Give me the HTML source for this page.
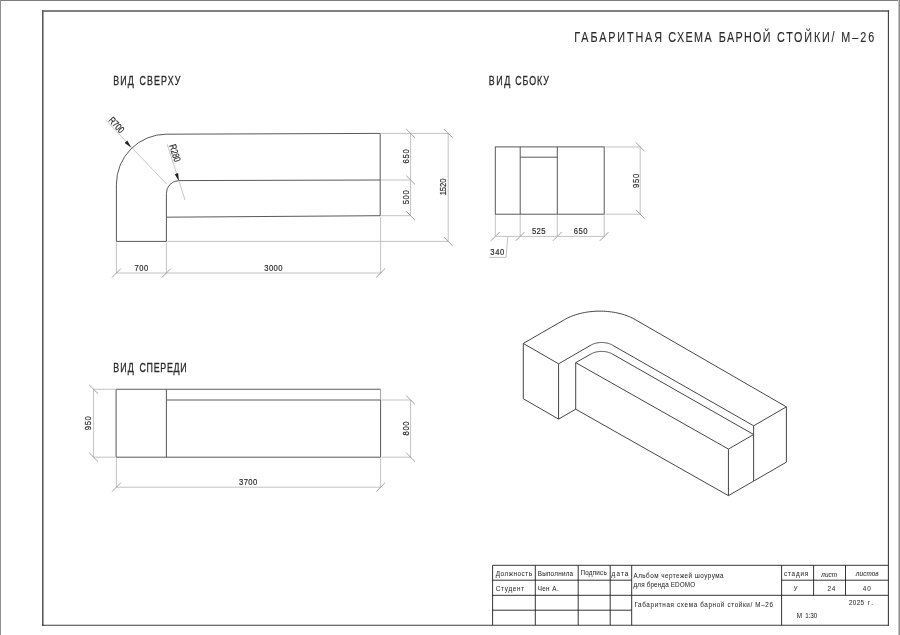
<!DOCTYPE html>
<html lang="ru">
<head>
<meta charset="utf-8">
<title>Габаритная схема барной стойки / М-26</title>
<style>
html,body{margin:0;padding:0;background:#fff;}
body{width:900px;height:635px;overflow:hidden;}
svg{display:block;font-family:"Liberation Sans",sans-serif;will-change:transform;opacity:0.999;}
text{white-space:pre;}
</style>
</head>
<body>
<svg width="900" height="635" viewBox="0 0 900 635">
<rect x="0" y="0" width="900" height="635" fill="#ffffff"/>
<rect x="0" y="0" width="900" height="1" fill="#7e7e7e"/>
<rect x="0" y="0" width="1" height="635" fill="#8e8e8e"/>
<rect x="898" y="0" width="1" height="635" fill="#c4c4c4"/>
<rect x="899" y="0" width="1" height="635" fill="#8c8c8c"/>
<g stroke-linecap="square">
<line x1="42.80" y1="11.10" x2="888.40" y2="11.10" stroke="#565656" stroke-width="1.5"/>
<line x1="42.80" y1="11.10" x2="42.80" y2="625.30" stroke="#505050" stroke-width="1.5"/>
<line x1="888.40" y1="11.10" x2="888.40" y2="625.30" stroke="#3c3c3c" stroke-width="1.1"/>
<line x1="42.80" y1="625.30" x2="888.40" y2="625.30" stroke="#3c3c3c" stroke-width="1.1"/>
</g>
<text transform="translate(574.35 42.00) translate(0.00 0) scale(0.7200 1)" font-size="15.0" fill="#2a2a2a" stroke="#2a2a2a" stroke-width="0.12" style="letter-spacing:2.615px;">ГАБАРИТНАЯ</text>
<text transform="translate(668.35 42.00) translate(0.00 0) scale(0.7200 1)" font-size="15.0" fill="#2a2a2a" stroke="#2a2a2a" stroke-width="0.12" style="letter-spacing:1.908px;">СХЕМА</text>
<text transform="translate(718.75 42.00) translate(0.00 0) scale(0.7200 1)" font-size="15.0" fill="#2a2a2a" stroke="#2a2a2a" stroke-width="0.12" style="letter-spacing:1.854px;">БАРНОЙ</text>
<text transform="translate(776.95 42.00) translate(0.00 0) scale(0.7200 1)" font-size="15.0" fill="#2a2a2a" stroke="#2a2a2a" stroke-width="0.12" style="letter-spacing:2.529px;">СТОЙКИ/</text>
<text transform="translate(841.35 42.00) translate(0.00 0) scale(0.7200 1)" font-size="15.0" fill="#2a2a2a" stroke="#2a2a2a" stroke-width="0.12" style="letter-spacing:2.722px;">М–26</text>
<text transform="translate(113.37 84.60) translate(0.00 0) scale(0.7400 1)" font-size="12.0" fill="#2a2a2a" stroke="#2a2a2a" stroke-width="0.3" style="letter-spacing:1.450px;">ВИД</text>
<text transform="translate(139.47 84.60) translate(0.00 0) scale(0.7400 1)" font-size="12.0" fill="#2a2a2a" stroke="#2a2a2a" stroke-width="0.3" style="letter-spacing:1.492px;">СВЕРХУ</text>
<text transform="translate(488.87 84.80) translate(0.00 0) scale(0.7400 1)" font-size="12.0" fill="#2a2a2a" stroke="#2a2a2a" stroke-width="0.3" style="letter-spacing:2.126px;">ВИД</text>
<text transform="translate(515.27 84.80) translate(0.00 0) scale(0.7400 1)" font-size="12.0" fill="#2a2a2a" stroke="#2a2a2a" stroke-width="0.3" style="letter-spacing:1.218px;">СБОКУ</text>
<text transform="translate(113.37 371.70) translate(0.00 0) scale(0.7400 1)" font-size="12.0" fill="#2a2a2a" stroke="#2a2a2a" stroke-width="0.3" style="letter-spacing:1.450px;">ВИД</text>
<text transform="translate(139.47 371.70) translate(0.00 0) scale(0.7400 1)" font-size="12.0" fill="#2a2a2a" stroke="#2a2a2a" stroke-width="0.3" style="letter-spacing:0.947px;">СПЕРЕДИ</text>
<path d="M116.40,241.40 L116.40,184.20 A50.0,50.0 0 0 1 166.40,134.20 L380.20,133.40 L380.20,215.70 L166.40,217.20" stroke="#505050" stroke-width="0.95" fill="none" stroke-linejoin="round"/>
<path d="M116.40,241.40 L166.40,241.40 L166.40,193.20 A12.6,12.6 0 0 1 179.00,180.60 L380.20,180.00" stroke="#505050" stroke-width="0.95" fill="none" stroke-linejoin="round"/>
<line x1="105.60" y1="119.90" x2="166.50" y2="184.00" stroke="#b8b8b8" stroke-width="0.8"/>
<line x1="167.20" y1="144.20" x2="185.00" y2="200.00" stroke="#b8b8b8" stroke-width="0.8"/>
<polygon points="131.20,147.50 124.63,142.93 127.29,140.51" fill="#222"/>
<polygon points="178.85,181.00 174.73,174.14 178.15,173.03" fill="#222"/>
<text transform="translate(107.94 120.80) rotate(46.5) translate(0.00 0) scale(0.7800 1)" font-size="9.8" fill="#2a2a2a" stroke="#2a2a2a" stroke-width="0.2" style="letter-spacing:-0.152px;">R700</text>
<text transform="translate(169.14 145.60) rotate(72.3) translate(0.00 0) scale(0.7800 1)" font-size="9.8" fill="#2a2a2a" stroke="#2a2a2a" stroke-width="0.2" style="letter-spacing:-0.152px;">R280</text>
<line x1="116.40" y1="242.40" x2="116.40" y2="273.00" stroke="#b4b4b4" stroke-width="0.8"/>
<line x1="166.40" y1="242.40" x2="166.40" y2="273.00" stroke="#b4b4b4" stroke-width="0.8"/>
<line x1="380.60" y1="216.70" x2="380.60" y2="273.00" stroke="#b4b4b4" stroke-width="0.8"/>
<line x1="116.40" y1="273.00" x2="380.60" y2="273.00" stroke="#b4b4b4" stroke-width="0.8"/>
<line x1="112.00" y1="277.40" x2="120.80" y2="268.60" stroke="#8a8a8a" stroke-width="0.8"/>
<line x1="162.00" y1="277.40" x2="170.80" y2="268.60" stroke="#8a8a8a" stroke-width="0.8"/>
<line x1="376.20" y1="277.40" x2="385.00" y2="268.60" stroke="#8a8a8a" stroke-width="0.8"/>
<text transform="translate(141.40 270.80) translate(-6.86 0) scale(0.7800 1)" font-size="9.8" fill="#2a2a2a" stroke="#2a2a2a" stroke-width="0.2" style="letter-spacing:0.618px;">700</text>
<text transform="translate(273.40 270.90) translate(-9.21 0) scale(0.7800 1)" font-size="9.8" fill="#2a2a2a" stroke="#2a2a2a" stroke-width="0.2" style="letter-spacing:0.604px;">3000</text>
<line x1="381.20" y1="133.40" x2="448.70" y2="133.40" stroke="#b4b4b4" stroke-width="0.8"/>
<line x1="381.20" y1="180.00" x2="410.60" y2="180.00" stroke="#b4b4b4" stroke-width="0.8"/>
<line x1="381.20" y1="215.70" x2="410.60" y2="215.70" stroke="#b4b4b4" stroke-width="0.8"/>
<line x1="167.40" y1="241.40" x2="448.20" y2="241.40" stroke="#b4b4b4" stroke-width="0.8"/>
<line x1="410.60" y1="133.40" x2="410.60" y2="215.70" stroke="#b4b4b4" stroke-width="0.8"/>
<line x1="448.20" y1="133.40" x2="448.20" y2="241.40" stroke="#b4b4b4" stroke-width="0.8"/>
<line x1="406.20" y1="129.00" x2="415.00" y2="137.80" stroke="#8a8a8a" stroke-width="0.8"/>
<line x1="406.20" y1="175.60" x2="415.00" y2="184.40" stroke="#8a8a8a" stroke-width="0.8"/>
<line x1="406.20" y1="211.30" x2="415.00" y2="220.10" stroke="#8a8a8a" stroke-width="0.8"/>
<line x1="443.80" y1="129.00" x2="452.60" y2="137.80" stroke="#8a8a8a" stroke-width="0.8"/>
<line x1="443.80" y1="237.00" x2="452.60" y2="245.80" stroke="#8a8a8a" stroke-width="0.8"/>
<text transform="translate(408.90 156.40) rotate(-90) translate(-7.11 0) scale(0.7800 1)" font-size="9.8" fill="#2a2a2a" stroke="#2a2a2a" stroke-width="0.2" style="letter-spacing:0.938px;">650</text>
<text transform="translate(408.90 197.30) rotate(-90) translate(-7.01 0) scale(0.7800 1)" font-size="9.8" fill="#2a2a2a" stroke="#2a2a2a" stroke-width="0.2" style="letter-spacing:0.810px;">500</text>
<text transform="translate(445.80 186.90) rotate(-90) translate(-8.46 0) scale(0.7800 1)" font-size="9.8" fill="#2a2a2a" stroke="#2a2a2a" stroke-width="0.2" style="letter-spacing:-0.038px;">1520</text>
<rect x="495.3" y="146.9" width="108.90" height="67.30" fill="none" stroke="#505050" stroke-width="0.95"/>
<line x1="520.20" y1="146.90" x2="520.20" y2="214.20" stroke="#505050" stroke-width="0.95"/>
<line x1="557.30" y1="146.90" x2="557.30" y2="214.20" stroke="#505050" stroke-width="0.95"/>
<line x1="520.20" y1="157.20" x2="557.30" y2="157.20" stroke="#505050" stroke-width="0.95"/>
<line x1="495.30" y1="215.20" x2="495.30" y2="236.40" stroke="#b4b4b4" stroke-width="0.8"/>
<line x1="490.90" y1="240.80" x2="499.70" y2="232.00" stroke="#8a8a8a" stroke-width="0.8"/>
<line x1="520.20" y1="215.20" x2="520.20" y2="236.40" stroke="#b4b4b4" stroke-width="0.8"/>
<line x1="515.80" y1="240.80" x2="524.60" y2="232.00" stroke="#8a8a8a" stroke-width="0.8"/>
<line x1="557.30" y1="215.20" x2="557.30" y2="236.40" stroke="#b4b4b4" stroke-width="0.8"/>
<line x1="552.90" y1="240.80" x2="561.70" y2="232.00" stroke="#8a8a8a" stroke-width="0.8"/>
<line x1="604.20" y1="215.20" x2="604.20" y2="236.40" stroke="#b4b4b4" stroke-width="0.8"/>
<line x1="599.80" y1="240.80" x2="608.60" y2="232.00" stroke="#8a8a8a" stroke-width="0.8"/>
<line x1="495.30" y1="236.40" x2="604.20" y2="236.40" stroke="#b4b4b4" stroke-width="0.8"/>
<text transform="translate(538.70 234.10) translate(-6.76 0) scale(0.7800 1)" font-size="9.8" fill="#2a2a2a" stroke="#2a2a2a" stroke-width="0.2" style="letter-spacing:0.489px;">525</text>
<text transform="translate(580.60 233.90) translate(-6.91 0) scale(0.7800 1)" font-size="9.8" fill="#2a2a2a" stroke="#2a2a2a" stroke-width="0.2" style="letter-spacing:0.682px;">650</text>
<path d="M507.8,236.6 L506.1,257.4 L488.9,257.4" stroke="#b4b4b4" stroke-width="0.8" fill="none" stroke-linejoin="round"/>
<text transform="translate(490.34 255.30) translate(0.00 0) scale(0.7800 1)" font-size="9.8" fill="#2a2a2a" stroke="#2a2a2a" stroke-width="0.2" style="letter-spacing:0.810px;">340</text>
<line x1="605.20" y1="146.90" x2="640.20" y2="146.90" stroke="#b4b4b4" stroke-width="0.8"/>
<line x1="605.20" y1="214.20" x2="640.20" y2="214.20" stroke="#b4b4b4" stroke-width="0.8"/>
<line x1="640.20" y1="146.90" x2="640.20" y2="214.20" stroke="#b4b4b4" stroke-width="0.8"/>
<line x1="635.80" y1="142.50" x2="644.60" y2="151.30" stroke="#8a8a8a" stroke-width="0.8"/>
<line x1="635.80" y1="209.80" x2="644.60" y2="218.60" stroke="#8a8a8a" stroke-width="0.8"/>
<text transform="translate(638.70 180.80) rotate(-90) translate(-7.11 0) scale(0.7800 1)" font-size="9.8" fill="#2a2a2a" stroke="#2a2a2a" stroke-width="0.2" style="letter-spacing:0.938px;">950</text>
<path d="M116.1,389.25 L380.6,389.25 M116.1,389.25 L116.1,457.2 L380.6,457.2 L380.6,400.0 M166.4,389.25 L166.4,457.2 M166.4,400.0 L380.6,400.0" stroke="#505050" stroke-width="0.95" fill="none" stroke-linejoin="round"/>
<line x1="380.60" y1="389.25" x2="380.60" y2="400.00" stroke="#8a8a8a" stroke-width="0.8"/>
<line x1="93.60" y1="389.25" x2="115.10" y2="389.25" stroke="#b4b4b4" stroke-width="0.8"/>
<line x1="93.60" y1="457.20" x2="115.10" y2="457.20" stroke="#b4b4b4" stroke-width="0.8"/>
<line x1="93.60" y1="389.25" x2="93.60" y2="457.20" stroke="#b4b4b4" stroke-width="0.8"/>
<line x1="89.20" y1="384.85" x2="98.00" y2="393.65" stroke="#8a8a8a" stroke-width="0.8"/>
<line x1="89.20" y1="452.80" x2="98.00" y2="461.60" stroke="#8a8a8a" stroke-width="0.8"/>
<text transform="translate(91.40 423.20) rotate(-90) translate(-6.96 0) scale(0.7800 1)" font-size="9.8" fill="#2a2a2a" stroke="#2a2a2a" stroke-width="0.2" style="letter-spacing:0.746px;">950</text>
<line x1="381.60" y1="400.00" x2="410.60" y2="400.00" stroke="#b4b4b4" stroke-width="0.8"/>
<line x1="381.60" y1="457.20" x2="410.60" y2="457.20" stroke="#b4b4b4" stroke-width="0.8"/>
<line x1="410.60" y1="400.00" x2="410.60" y2="457.20" stroke="#b4b4b4" stroke-width="0.8"/>
<line x1="406.20" y1="395.60" x2="415.00" y2="404.40" stroke="#8a8a8a" stroke-width="0.8"/>
<line x1="406.20" y1="452.80" x2="415.00" y2="461.60" stroke="#8a8a8a" stroke-width="0.8"/>
<text transform="translate(409.10 428.40) rotate(-90) translate(-7.01 0) scale(0.7800 1)" font-size="9.8" fill="#2a2a2a" stroke="#2a2a2a" stroke-width="0.2" style="letter-spacing:0.810px;">800</text>
<line x1="116.40" y1="458.20" x2="116.40" y2="487.20" stroke="#b4b4b4" stroke-width="0.8"/>
<line x1="380.60" y1="458.20" x2="380.60" y2="487.20" stroke="#b4b4b4" stroke-width="0.8"/>
<line x1="116.10" y1="487.20" x2="380.60" y2="487.20" stroke="#b4b4b4" stroke-width="0.8"/>
<line x1="112.00" y1="491.60" x2="120.80" y2="482.80" stroke="#8a8a8a" stroke-width="0.8"/>
<line x1="376.20" y1="491.60" x2="385.00" y2="482.80" stroke="#8a8a8a" stroke-width="0.8"/>
<text transform="translate(248.10 485.10) translate(-9.11 0) scale(0.7800 1)" font-size="9.8" fill="#2a2a2a" stroke="#2a2a2a" stroke-width="0.2" style="letter-spacing:0.518px;">3700</text>
<path d="M523.29,343.44 L564.62,319.58 L566.03,318.80 L567.50,318.04 L569.01,317.33 L570.57,316.64 L572.18,316.00 L573.83,315.39 L575.52,314.82 L577.25,314.28 L579.01,313.79 L580.81,313.34 L582.63,312.92 L584.48,312.55 L586.36,312.22 L588.25,311.94 L590.17,311.70 L592.09,311.50 L594.04,311.34 L595.99,311.23 L597.94,311.16 L599.90,311.14 L601.86,311.16 L603.81,311.23 L605.76,311.34 L607.71,311.50 L609.63,311.70 L611.55,311.94 L613.44,312.22 L615.32,312.55 L617.17,312.92 L618.99,313.34 L620.79,313.79 L622.55,314.28 L624.28,314.82 L625.97,315.39 L627.62,316.00 L629.23,316.64 L630.79,317.33 L632.30,318.04 L633.77,318.80 L635.18,319.58 L786.39,406.88 L753.63,425.80" stroke="#464646" stroke-width="1.0" fill="none" stroke-linejoin="round"/>
<path d="M558.57,363.81 L591.08,345.04 L591.50,344.81 L591.94,344.58 L592.40,344.37 L592.87,344.16 L593.35,343.97 L593.84,343.78 L594.35,343.61 L594.87,343.45 L595.40,343.31 L595.94,343.17 L596.48,343.05 L597.04,342.93 L597.60,342.84 L598.17,342.75 L598.74,342.68 L599.32,342.62 L599.90,342.57 L600.49,342.54 L601.08,342.52 L601.66,342.51 L602.25,342.52 L602.84,342.54 L603.42,342.57 L604.01,342.62 L604.58,342.68 L605.16,342.75 L605.73,342.84 L606.29,342.93 L606.85,343.05 L607.39,343.17 L607.93,343.31 L608.46,343.45 L608.98,343.61 L609.49,343.78 L609.98,343.97 L610.46,344.16 L610.93,344.37 L611.39,344.58 L611.82,344.81 L612.25,345.04 L753.63,425.80" stroke="#464646" stroke-width="1.0" fill="none" stroke-linejoin="round"/>
<path d="M523.29,343.44 L523.29,398.73 L558.57,419.10 L558.57,363.81 L523.29,343.44" stroke="#464646" stroke-width="1.0" fill="none" stroke-linejoin="round"/>
<path d="M558.57,419.10 L575.71,409.21 L575.71,362.65" stroke="#464646" stroke-width="1.0" fill="none" stroke-linejoin="round"/>
<path d="M575.71,362.65 L591.08,353.95 L591.50,353.71 L591.94,353.49 L592.40,353.27 L592.87,353.07 L593.35,352.87 L593.84,352.69 L594.35,352.52 L594.87,352.36 L595.40,352.21 L595.94,352.07 L596.48,351.95 L597.04,351.84 L597.60,351.74 L598.17,351.65 L598.74,351.58 L599.32,351.52 L599.90,351.48 L600.49,351.44 L601.08,351.42 L601.66,351.42 L602.25,351.42 L602.84,351.44 L603.42,351.48 L604.01,351.52 L604.58,351.58 L605.16,351.65 L605.73,351.74 L606.29,351.84 L606.85,351.95 L607.39,352.07 L607.93,352.21 L608.46,352.36 L608.98,352.52 L609.49,352.69 L609.98,352.87 L610.46,353.07 L610.93,353.27 L611.39,353.49 L611.82,353.71 L612.25,353.95 L753.63,434.52" stroke="#464646" stroke-width="1.0" fill="none" stroke-linejoin="round"/>
<path d="M575.71,362.65 L728.43,449.07 L753.63,434.52" stroke="#464646" stroke-width="1.0" fill="none" stroke-linejoin="round"/>
<path d="M575.71,409.21 L728.43,495.63 L728.43,449.07" stroke="#464646" stroke-width="1.0" fill="none" stroke-linejoin="round"/>
<path d="M728.43,495.63 L753.63,481.09 L753.63,425.80" stroke="#464646" stroke-width="1.0" fill="none" stroke-linejoin="round"/>
<path d="M753.63,481.09 L786.39,462.17 L786.39,406.88" stroke="#464646" stroke-width="1.0" fill="none" stroke-linejoin="round"/>
<line x1="492.60" y1="565.30" x2="888.30" y2="565.30" stroke="#1e1e1e" stroke-width="0.9"/>
<line x1="492.60" y1="565.30" x2="492.60" y2="625.20" stroke="#1e1e1e" stroke-width="0.9"/>
<line x1="535.30" y1="565.30" x2="535.30" y2="625.20" stroke="#1e1e1e" stroke-width="0.9"/>
<line x1="578.20" y1="565.30" x2="578.20" y2="625.20" stroke="#1e1e1e" stroke-width="0.9"/>
<line x1="610.20" y1="565.30" x2="610.20" y2="625.20" stroke="#1e1e1e" stroke-width="0.9"/>
<line x1="631.70" y1="565.30" x2="631.70" y2="625.20" stroke="#1e1e1e" stroke-width="0.9"/>
<line x1="781.60" y1="565.30" x2="781.60" y2="625.20" stroke="#1e1e1e" stroke-width="0.9"/>
<line x1="813.60" y1="565.30" x2="813.60" y2="595.30" stroke="#1e1e1e" stroke-width="0.9"/>
<line x1="845.50" y1="565.30" x2="845.50" y2="595.30" stroke="#1e1e1e" stroke-width="0.9"/>
<line x1="492.60" y1="580.20" x2="631.70" y2="580.20" stroke="#1e1e1e" stroke-width="0.9"/>
<line x1="492.60" y1="595.30" x2="888.30" y2="595.30" stroke="#1e1e1e" stroke-width="0.9"/>
<line x1="492.60" y1="610.20" x2="631.70" y2="610.20" stroke="#1e1e1e" stroke-width="0.9"/>
<line x1="781.60" y1="580.20" x2="888.30" y2="580.20" stroke="#1e1e1e" stroke-width="0.9"/>
<text transform="translate(495.72 575.60) translate(0.00 0) scale(0.7800 1)" font-size="8.1" fill="#2a2a2a" stroke="#2a2a2a" stroke-width="0.05" style="letter-spacing:0.701px;">Должность</text>
<text transform="translate(537.72 575.60) translate(0.00 0) scale(0.7800 1)" font-size="8.1" fill="#2a2a2a" stroke="#2a2a2a" stroke-width="0.05" style="letter-spacing:0.321px;">Выполнила</text>
<text transform="translate(580.42 574.90) translate(0.00 0) scale(0.7800 1)" font-size="8.1" fill="#2a2a2a" stroke="#2a2a2a" stroke-width="0.05" style="letter-spacing:0.289px;">Подпись</text>
<text transform="translate(611.62 575.60) translate(0.00 0) scale(0.7800 1)" font-size="8.1" fill="#2a2a2a" stroke="#2a2a2a" stroke-width="0.05" style="letter-spacing:1.436px;">дата</text>
<text transform="translate(495.72 590.60) translate(0.00 0) scale(0.7800 1)" font-size="8.1" fill="#2a2a2a" stroke="#2a2a2a" stroke-width="0.05" style="letter-spacing:0.961px;">Студент</text>
<text transform="translate(537.72 590.60) translate(0.00 0) scale(0.7800 1)" font-size="8.1" fill="#2a2a2a" stroke="#2a2a2a" stroke-width="0.05" style="letter-spacing:0.349px;">Чен</text>
<text transform="translate(552.22 590.60) translate(0.00 0) scale(0.7800 1)" font-size="8.1" fill="#2a2a2a" stroke="#2a2a2a" stroke-width="0.05" style="letter-spacing:0.883px;">А.</text>
<text transform="translate(633.52 577.80) translate(0.00 0) scale(0.7800 1)" font-size="8.1" fill="#2a2a2a" stroke="#2a2a2a" stroke-width="0.05" style="letter-spacing:0.599px;">Альбом чертежей шоурума</text>
<text transform="translate(633.52 587.00) translate(0.00 0) scale(0.7800 1)" font-size="8.1" fill="#2a2a2a" stroke="#2a2a2a" stroke-width="0.05" style="letter-spacing:0.192px;">для бренда EDOMO</text>
<text transform="translate(634.42 607.10) translate(0.00 0) scale(0.7800 1)" font-size="8.1" fill="#2a2a2a" stroke="#2a2a2a" stroke-width="0.05" style="letter-spacing:0.816px;">Габаритная схема барной стойки/ М–26</text>
<text transform="translate(784.02 575.90) translate(0.00 0) scale(0.7800 1)" font-size="8.1" fill="#2a2a2a" stroke="#2a2a2a" stroke-width="0.05" style="letter-spacing:1.032px;">стадия</text>
<text transform="translate(821.32 576.50) translate(0.00 0) scale(0.7800 1)" font-size="8.1" fill="#2a2a2a" stroke="#2a2a2a" stroke-width="0.05" style="letter-spacing:0.111px;font-style:italic">лист</text>
<text transform="translate(855.82 576.20) translate(0.00 0) scale(0.7800 1)" font-size="8.1" fill="#2a2a2a" stroke="#2a2a2a" stroke-width="0.05" style="letter-spacing:0.159px;font-style:italic">листов</text>
<text transform="translate(793.42 591.00) translate(0.00 0) scale(0.7800 1)" font-size="8.1" fill="#2a2a2a" stroke="#2a2a2a" stroke-width="0.05" style="letter-spacing:0.000px;">У</text>
<text transform="translate(827.42 591.00) translate(0.00 0) scale(0.7800 1)" font-size="8.1" fill="#2a2a2a" stroke="#2a2a2a" stroke-width="0.05" style="letter-spacing:1.193px;">24</text>
<text transform="translate(862.82 591.00) translate(0.00 0) scale(0.7800 1)" font-size="8.1" fill="#2a2a2a" stroke="#2a2a2a" stroke-width="0.05" style="letter-spacing:1.193px;">40</text>
<text transform="translate(849.02 604.80) translate(0.00 0) scale(0.7800 1)" font-size="8.1" fill="#2a2a2a" stroke="#2a2a2a" stroke-width="0.05" style="letter-spacing:0.386px;">2025</text>
<text transform="translate(867.82 604.80) translate(0.00 0) scale(0.7800 1)" font-size="8.1" fill="#2a2a2a" stroke="#2a2a2a" stroke-width="0.05" style="letter-spacing:2.397px;">г.</text>
<text transform="translate(796.82 617.50) translate(0.00 0) scale(0.7800 1)" font-size="8.1" fill="#2a2a2a" stroke="#2a2a2a" stroke-width="0.05" style="letter-spacing:0.000px;">М</text>
<text transform="translate(805.22 617.50) translate(0.00 0) scale(0.7800 1)" font-size="8.1" fill="#2a2a2a" stroke="#2a2a2a" stroke-width="0.05" style="letter-spacing:-0.102px;">1:30</text>
</svg>
</body>
</html>
